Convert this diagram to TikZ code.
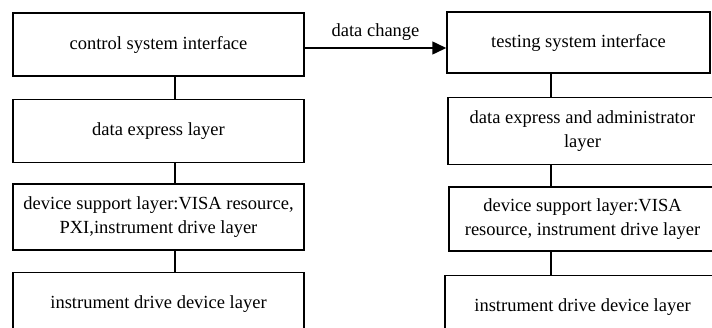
\documentclass[tikz,border=0pt]{standalone}
\usepackage{fontspec}
\setmainfont{Liberation Serif}
\usetikzlibrary{positioning,arrows.meta}

\tikzset{
	layer/.style={draw, line width=1.5pt, inner sep=0pt, align=center,
		minimum width=291pt, font=\fontsize{18.5}{24}\selectfont},
	link/.style={line width=1.5pt},
}

\begin{document}
\begin{tikzpicture}
		\useasboundingbox (0,0) rectangle (712pt,-327pt);
		\clip (0,0) rectangle (712pt,-327pt);
		\node[layer, minimum height=63pt] (ctrl) at (158.5pt,-44.5pt) {control system interface};
		\node[layer, minimum height=63pt, below=22pt of ctrl] (dex) {data express layer};
		\node[layer, minimum height=66pt, below=20pt of dex] (dsup) {device support layer:VISA resource,\\PXI,instrument drive layer};
		\node[layer, minimum height=63pt, below=21pt of dsup] (drv) {instrument drive device layer};
		
		\node[layer, minimum width=263pt, minimum height=61pt] (test) at (578.5pt,-42.5pt) {testing system interface};
		\node[layer, minimum width=269pt, minimum height=67pt, below=23pt of test, xshift=4pt] (tdex) {data express and administrator\\layer};
		\node[layer, minimum width=267pt, minimum height=64pt, below=21pt of tdex] (tsup) {device support layer:VISA\\resource, instrument drive layer};
		\node[layer, minimum width=275pt, minimum height=63pt, below=23pt of tsup] (tdrv) {instrument drive device layer};
		
		\coordinate (lx) at (175pt,0);
		\coordinate (rx) at (551pt,0);
		\coordinate (ay) at (0,-48pt);
		
		\draw[link] (ctrl.south -| lx) -- (dex.north -| lx);
		\draw[link] (dex.south -| lx) -- (dsup.north -| lx);
		\draw[link] (dsup.south -| lx) -- (drv.north -| lx);
		\draw[link] (test.south -| rx) -- (tdex.north -| rx);
		\draw[link] (tdex.south -| rx) -- (tsup.north -| rx);
		\draw[link] (tsup.south -| rx) -- (tdrv.north -| rx);
		
		\draw[link, -{Triangle[length=14pt,width=13pt]}] (ctrl.east |- ay) -- node[above=3pt, font=\fontsize{18.5}{22}\selectfont] {data change} (test.west |- ay);
\end{tikzpicture}
\end{document}
